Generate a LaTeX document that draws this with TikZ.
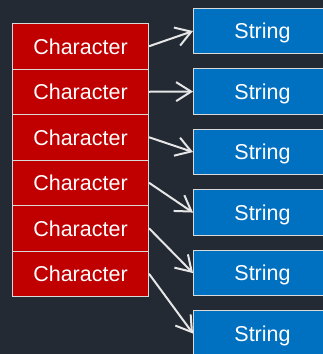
\documentclass[tikz,border=0pt]{standalone}
\usepackage{fontspec}
\setmainfont{Liberation Sans}
\usetikzlibrary{arrows.meta}
\definecolor{bg}{HTML}{232A34}
\definecolor{chr}{HTML}{C00000}
\definecolor{strc}{HTML}{0070C0}
\definecolor{edge}{HTML}{D9D9D9}
\definecolor{arr}{HTML}{E6E6E6}
\begin{document}
\begin{tikzpicture}[x=1pt,y=-1pt,
  box/.style={draw=edge, line width=1pt, text=white, anchor=north west, inner sep=0pt, text height=15.5pt, text depth=0pt, font=\fontsize{21.5}{25}\selectfont},
  charbox/.style={box, fill=chr, minimum width=136pt, minimum height=45.5pt},
  strbox/.style={box, fill=strc, minimum width=138pt, minimum height=45.5pt},
  link/.style={draw=arr, line width=2pt, -{Straight Barb[length=15pt,width=19pt]}}]
\useasboundingbox (0,0) rectangle (323,354);
\clip (0,0) rectangle (323,354);
\fill[bg] (0,0) rectangle (323,354);
\foreach \i in {1,...,6} {
  \node[charbox] (c\i) at (12, {23+45.5*(\i-1)}) {Character};
  \node[strbox] (s\i) at (193, {7.8+60.5*(\i-1)}) {String};
}
\foreach \i in {1,...,6} {
  \draw[link] (c\i.east) -- (s\i.west);
}
\end{tikzpicture}
\end{document}
